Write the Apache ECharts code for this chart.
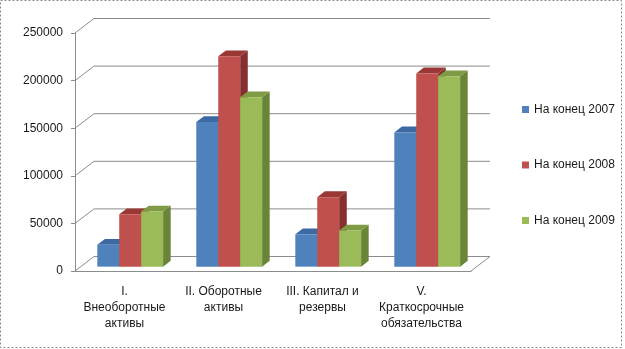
<!DOCTYPE html>
<html>
<head>
<meta charset="utf-8">
<script src="https://cdn.jsdelivr.net/npm/echarts@6/dist/echarts.min.js"></script>
<style>
  html, body { margin: 0; padding: 0; background: #fff; }
  #chart { width: 625px; height: 349px; }
</style>
</head>
<body>
<div id="chart"></div>
<script>
// Balance sheet sections, thousand roubles
const categories = ['I.\nВнеоборотные\nактивы', 'II. Оборотные\nактивы', 'III. Капитал и\nрезервы', 'V.\nКраткосрочные\nобязательства'];
const seriesNames = ['На конец 2007', 'На конец 2008', 'На конец 2009'];
const values2007 = [23000, 152000, 34000, 141000];
const values2008 = [55000, 221000, 73000, 203000];
const values2009 = [58000, 178000, 38000, 200000];
const yTicks = [0, 50000, 100000, 150000, 200000, 250000];

// Face colours: front, top, side
const palette = [
  { front: '#4F81BD', top: '#3D69A3', side: '#2F5788' },
  { front: '#C0504D', top: '#9A3836', side: '#85302E' },
  { front: '#9BBB59', top: '#7F9C45', side: '#6A8538' }
];

// Pseudo-3D depth of the plot box (pixels)
const DEPTH_X = 19, DEPTH_Y = -14.5;
const BAR_FRONT = 0.30, BAR_BACK = 0.70;   // bar slab position in depth
const BAR_W = 0.2215;                      // bar width as share of category band
const lineColor = '#8c8c8c';

function wallRenderer(params, api) {
  const cs = params.coordSys;
  const y = api.coord([0, api.value(0)])[1];
  const x0 = cs.x, x1 = cs.x + cs.width;
  const children = [{
    type: 'polyline',
    shape: { points: [[x0, y], [x0 + DEPTH_X, y + DEPTH_Y], [x1 + DEPTH_X, y + DEPTH_Y]] },
    style: { stroke: lineColor, lineWidth: 1, fill: null }
  }];
  if (api.value(0) === 0) {
    children.push({
      type: 'line',
      shape: { x1: x1, y1: y, x2: x1 + DEPTH_X, y2: y + DEPTH_Y },
      style: { stroke: lineColor, lineWidth: 1 }
    });
  }
  return { type: 'group', children: children };
}

function barRenderer(idx) {
  return function (params, api) {
    const cat = api.value(0);
    const top = api.coord([cat, api.value(1)]);
    const base = api.coord([cat, 0]);
    const band = api.size([1, 0])[0];
    const w = band * BAR_W;
    const fx = BAR_FRONT * DEPTH_X, fy = BAR_FRONT * DEPTH_Y;
    const bx = (BAR_BACK - BAR_FRONT) * DEPTH_X, by = (BAR_BACK - BAR_FRONT) * DEPTH_Y;
    const xl = top[0] + fx + (idx - 1.5) * w;
    const xr = xl + w;
    const yt = top[1] + fy;
    const yb = base[1] + fy;
    const c = palette[idx];
    return {
      type: 'group',
      children: [
        { type: 'polygon', shape: { points: [[xr, yt], [xr + bx, yt + by], [xr + bx, yb + by], [xr, yb]] },
          style: { fill: c.side } },
        { type: 'polygon', shape: { points: [[xl, yt], [xl + bx, yt + by], [xr + bx, yt + by], [xr, yt]] },
          style: { fill: c.top } },
        { type: 'rect', shape: { x: xl, y: yt, width: w, height: yb - yt },
          style: { fill: c.front } }
      ]
    };
  };
}

const allValues = [values2007, values2008, values2009];

const chart = echarts.init(document.getElementById('chart'), null, { renderer: 'canvas' });
chart.setOption({
  animation: false,
  backgroundColor: '#ffffff',
  textStyle: { fontFamily: '"Liberation Sans", Arial, sans-serif' },
  grid: { left: 75, right: 154, top: 33, bottom: 78 },
  legend: {
    orient: 'vertical',
    left: 522,
    top: 102,
    padding: 0,
    itemWidth: 7,
    itemHeight: 7,
    itemGap: 40.5,
    icon: 'rect',
    data: seriesNames,
    textStyle: { fontSize: 12, color: '#1a1a1a', lineHeight: 15 }
  },
  xAxis: {
    type: 'category',
    data: categories,
    axisLine: { lineStyle: { color: lineColor } },
    axisTick: { length: 4, lineStyle: { color: lineColor } },
    axisLabel: { fontSize: 12, color: '#1a1a1a', lineHeight: 16, margin: 13, interval: 0 }
  },
  yAxis: {
    type: 'value',
    min: 0,
    max: 250000,
    interval: 50000,
    axisLine: { show: true, lineStyle: { color: lineColor } },
    axisTick: { show: true, length: 4, lineStyle: { color: lineColor } },
    axisLabel: { fontSize: 12, color: '#1a1a1a', margin: 12, formatter: v => String(v) },
    splitLine: { show: false }
  },
  graphic: [{
    type: 'rect',
    shape: { x: 0.5, y: 0.5, width: 621, height: 347 },
    style: { fill: null, stroke: '#8a8a8a', lineWidth: 1, lineDash: [2, 2] },
    silent: true
  }],
  series: [
    {
      type: 'custom',
      name: 'walls',
      silent: true,
      renderItem: wallRenderer,
      data: yTicks.map(v => [v]),
      encode: { y: 0 },
      z: 1
    }
  ].concat(seriesNames.map((name, i) => ({
    type: 'custom',
    name: name,
    renderItem: barRenderer(i),
    itemStyle: { color: palette[i].front },
    data: allValues[i].map((v, k) => [k, v]),
    encode: { x: 0, y: 1 },
    z: 2 + i
  })))
});
</script>
</body>
</html>
